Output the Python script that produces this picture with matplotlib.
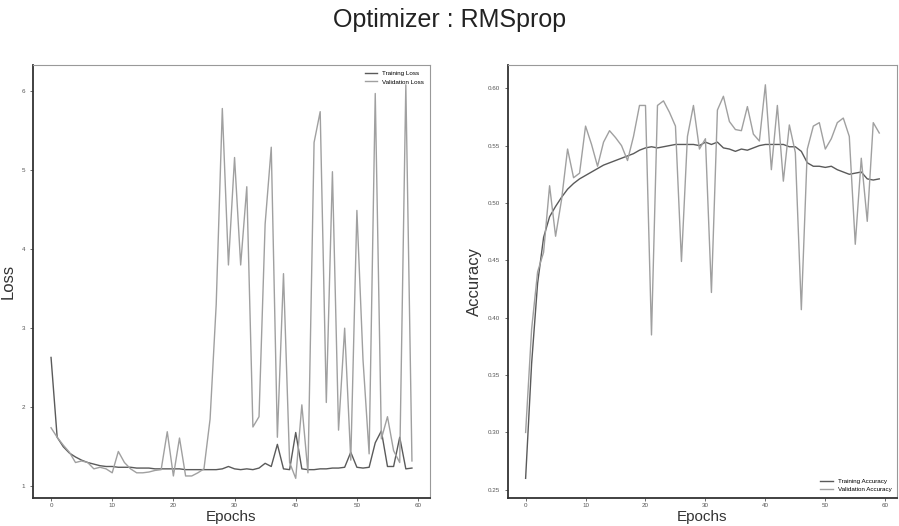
import numpy as np
import matplotlib
matplotlib.use("Agg")
import matplotlib.pyplot as plt

plt.rcParams['font.family'] = ['Liberation Sans', 'DejaVu Sans']

epochs = np.arange(60)

train_loss = [2.63, 1.62, 1.50, 1.42, 1.37, 1.33, 1.30, 1.28, 1.26, 1.25,
              1.25, 1.24, 1.24, 1.24, 1.23, 1.23, 1.23, 1.22, 1.22, 1.22,
              1.22, 1.22, 1.21, 1.21, 1.21, 1.21, 1.21, 1.21, 1.22, 1.25,
              1.22, 1.21, 1.22, 1.21, 1.23, 1.29, 1.25, 1.53, 1.22, 1.21,
              1.68, 1.22, 1.21, 1.21, 1.22, 1.22, 1.23, 1.23, 1.24, 1.43,
              1.24, 1.23, 1.24, 1.55, 1.70, 1.25, 1.25, 1.62, 1.22, 1.23]
val_loss = [1.74, 1.62, 1.52, 1.43, 1.30, 1.32, 1.30, 1.22, 1.24, 1.22,
            1.17, 1.44, 1.30, 1.22, 1.17, 1.17, 1.18, 1.20, 1.21, 1.69,
            1.13, 1.61, 1.13, 1.13, 1.17, 1.22, 1.85, 3.30, 5.78, 3.80,
            5.16, 3.80, 4.79, 1.75, 1.88, 4.32, 5.29, 1.62, 3.69, 1.30,
            1.10, 2.03, 1.17, 5.35, 5.74, 2.06, 4.98, 1.71, 3.00, 1.33,
            4.49, 2.60, 1.41, 5.97, 1.60, 1.88, 1.45, 1.30, 6.08, 1.32]

train_acc = [0.26, 0.36, 0.43, 0.47, 0.488, 0.497, 0.505, 0.512, 0.517, 0.521,
             0.524, 0.527, 0.530, 0.533, 0.535, 0.537, 0.539, 0.541, 0.543, 0.546,
             0.548, 0.549, 0.548, 0.549, 0.550, 0.551, 0.551, 0.551, 0.551, 0.550,
             0.553, 0.551, 0.553, 0.548, 0.547, 0.545, 0.547, 0.546, 0.548, 0.550,
             0.551, 0.551, 0.551, 0.551, 0.549, 0.549, 0.545, 0.535, 0.532, 0.532,
             0.531, 0.532, 0.529, 0.527, 0.525, 0.526, 0.527, 0.521, 0.520, 0.521]
val_acc = [0.30, 0.39, 0.44, 0.457, 0.515, 0.471, 0.503, 0.547, 0.522, 0.526,
           0.567, 0.551, 0.532, 0.553, 0.563, 0.557, 0.550, 0.537, 0.558, 0.585,
           0.585, 0.385, 0.585, 0.589, 0.579, 0.567, 0.449, 0.558, 0.585, 0.547,
           0.556, 0.422, 0.581, 0.593, 0.571, 0.564, 0.563, 0.584, 0.560, 0.554,
           0.603, 0.529, 0.585, 0.519, 0.568, 0.544, 0.407, 0.547, 0.567, 0.570,
           0.547, 0.556, 0.570, 0.574, 0.558, 0.464, 0.539, 0.484, 0.570, 0.561]

dark = '#5a5a5a'
light = '#a0a0a0'

fig = plt.figure(figsize=(8.99, 5.26), dpi=100)
fig.suptitle('Optimizer : RMSprop', fontsize=18, y=0.985, color='#222222')

ax1 = fig.add_axes([0.0367, 0.0532, 0.4416, 0.823])
ax2 = fig.add_axes([0.565, 0.0532, 0.4327, 0.823])

ax1.plot(epochs, train_loss, color=dark, lw=1.0, label='Training Loss')
ax1.plot(epochs, val_loss, color=light, lw=1.0, label='Validation Loss')
ax1.set_xticks([0, 10, 20, 30, 40, 50, 60])
ax1.set_yticks([1, 2, 3, 4, 5, 6])
ax1.set_ylabel('Loss', fontsize=12, color='#333333')
ax1.set_xlabel('Epochs', fontsize=11, color='#333333')
ax1.yaxis.set_label_coords(-0.045, 0.5)
ax1.xaxis.set_label_coords(0.5, -0.027)
ax1.legend(loc='upper right', frameon=False, fontsize=4.5)

ax2.plot(epochs, train_acc, color=dark, lw=1.0, label='Training Accuracy')
ax2.plot(epochs, val_acc, color=light, lw=1.0, label='Validation Accuracy')
ax2.set_xticks([0, 10, 20, 30, 40, 50, 60])
ax2.set_yticks([0.25, 0.30, 0.35, 0.40, 0.45, 0.50, 0.55, 0.60])
ax2.set_ylabel('Accuracy', fontsize=12, color='#333333')
ax2.set_xlabel('Epochs', fontsize=11, color='#333333')
ax2.yaxis.set_label_coords(-0.068, 0.5)
ax2.xaxis.set_label_coords(0.5, -0.027)
ax2.legend(loc='lower right', frameon=False, fontsize=4.5)

for ax in (ax1, ax2):
    ax.tick_params(labelsize=4.5, colors='#555555', length=2, width=0.6)
    ax.tick_params(axis='x', pad=1.5)
    ax.spines['left'].set_color('#333333')
    ax.spines['bottom'].set_color('#333333')
    ax.spines['left'].set_linewidth(1.3)
    ax.spines['bottom'].set_linewidth(1.3)
    ax.spines['top'].set_color('#999999')
    ax.spines['right'].set_color('#999999')

fig.savefig('out.png', dpi=100)
